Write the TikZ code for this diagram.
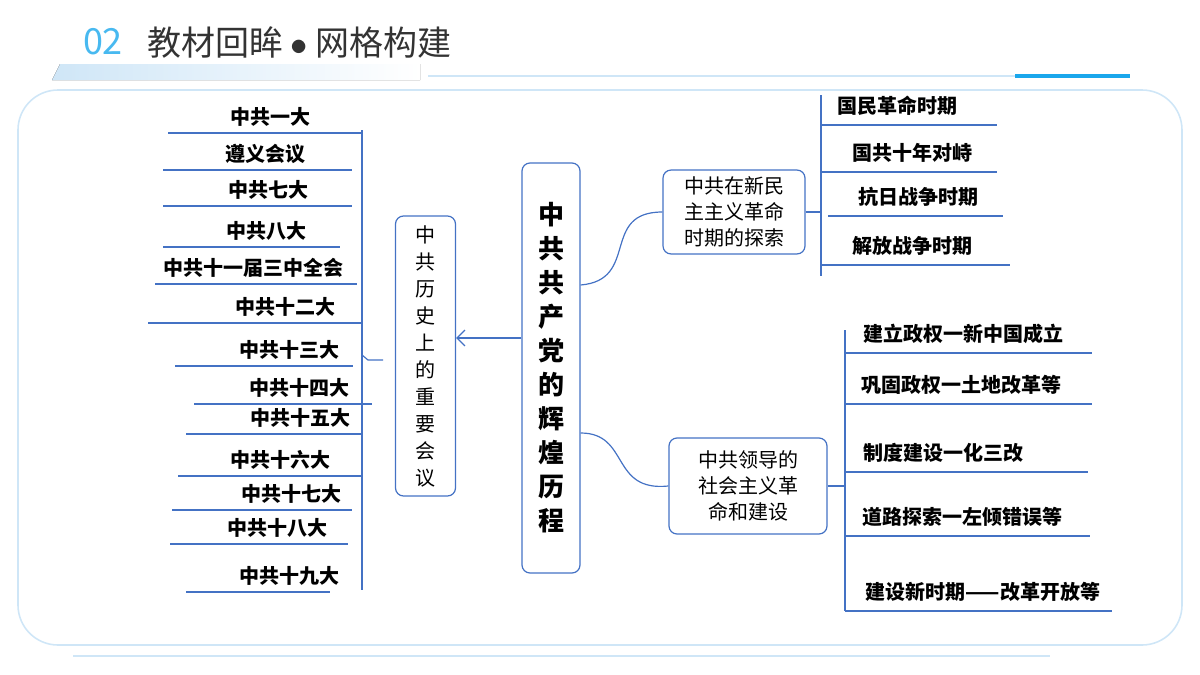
\documentclass[tikz,border=0pt]{standalone}
\usepackage{fontspec}
\setmainfont{Noto Sans CJK SC}
\usetikzlibrary{arrows.meta}
\definecolor{linkblue}{HTML}{4472C4}
\definecolor{paleblue}{HTML}{CFE6F7}
\definecolor{topblue}{HTML}{1AA7EC}
\tikzset{
  item/.style={font=\fontsize{10}{12}\selectfont\bfseries, inner sep=1pt},
  lead/.style={draw=linkblue, line width=0.6pt},
  box/.style={draw=linkblue, line width=0.6pt, rounded corners=4pt, align=center}
}
\begin{document}
\begin{tikzpicture}[x=0.5pt,y=-0.5pt]
\useasboundingbox (0,0) rectangle (1200,675);
% frame
\draw[paleblue, line width=0.8pt, rounded corners=20pt] (18,90) rectangle (1182,645);
\fill[left color=paleblue, right color=white] (60,64) -- (420,64) -- (420,80) -- (52,80) -- cycle;
\draw[paleblue, line width=0.6pt] (428,76) -- (1130,76);
\draw[topblue, line width=2pt] (1015,76) -- (1130,76);
\draw[paleblue, line width=0.6pt] (73,656) -- (1050,656);
\node[font=\fontsize{18}{20}\selectfont, text=topblue!80] (num) at (103,42) {02};
\node[font=\fontsize{17}{20}\selectfont, text=black!80, anchor=west] (title) at (140,42) {教材回眸 $\bullet$ 网格构建};
% centre
\node[box, minimum width=29pt, minimum height=205pt, font=\fontsize{13}{17}\selectfont\bfseries] (main) at (551,368)
  {中\\共\\共\\产\\党\\的\\辉\\煌\\历\\程};
\node[box, minimum width=30pt, minimum height=140pt, font=\fontsize{10}{13.5}\selectfont] (meet) at (425.5,356)
  {中\\共\\历\\史\\上\\的\\重\\要\\会\\议};
\draw[linkblue, line width=0.6pt, -{Straight Barb[length=4pt]}] (main.west |- 0,338) -- (meet.east |- 0,338);
% left leads
\draw[lead] (362,130) -- (362,590);
\draw[lead] (362,355) -- (368,360) -- (383,360);
\foreach \t/\x/\y/\a/\b in {中共一大/270/117/168/362, 遵义会议/265/154/163/352, 中共七大/268/190/163/352,
  中共八大/266/231/163/340, 中共十一届三中全会/253/268/155/357, 中共十二大/285/307/148/362,
  中共十三大/289/350/175/353, 中共十四大/299/388/194/372, 中共十五大/300/418/186/362,
  中共十六大/280/460/178/362, 中共十七大/291/494/172/352, 中共十八大/277/528/170/348,
  中共十九大/289/576/186/330}{
  \node[item] (m\y) at (\x,\y) {\t};
  \draw[lead] (\a,\y+16) -- (\b,\y+16);
}
% upper branch
\node[box, minimum width=71pt, minimum height=41pt, font=\fontsize{10}{13}\selectfont] (newdem) at (734,212)
  {中共在新民\\主主义革命\\时期的探索};
\draw[lead] (main.east |- 0,285) .. controls (640,280) and (600,212) .. (newdem.west);
\draw[lead] (821,95) -- (821,276);
\draw[lead] (newdem.east) -- (821,212);
\foreach \t/\x/\y/\a/\b in {国民革命时期/897/106/821/997, 国共十年对峙/912/153/821/997,
  抗日战争时期/918/197/828/1003, 解放战争时期/912/246/821/1010}{
  \node[item] (r\y) at (\x,\y) {\t};
  \draw[lead] (\a,\y+19) -- (\b,\y+19);
}
% lower branch
\node[box, minimum width=79pt, minimum height=48pt, font=\fontsize{10}{13}\selectfont] (social) at (748,486)
  {中共领导的\\社会主义革\\命和建设};
\draw[lead] (main.east |- 0,433) .. controls (630,433) and (610,492) .. (social.west);
\draw[lead] (845,330) -- (845,611);
\draw[lead] (social.east) -- (845,486);
\foreach \t/\x/\y/\a/\b in {建立政权一新中国成立/963/334/845/1092, 巩固政权一土地改革等/961/385/845/1092,
  制度建设一化三改/943/453/845/1088, 道路探索一左倾错误等/962/517/845/1090,
  建设新时期——改革开放等/983/592/845/1112}{
  \node[item] (s\y) at (\x,\y) {\t};
  \draw[lead] (\a,\y+19) -- (\b,\y+19);
}
\end{tikzpicture}
\end{document}
